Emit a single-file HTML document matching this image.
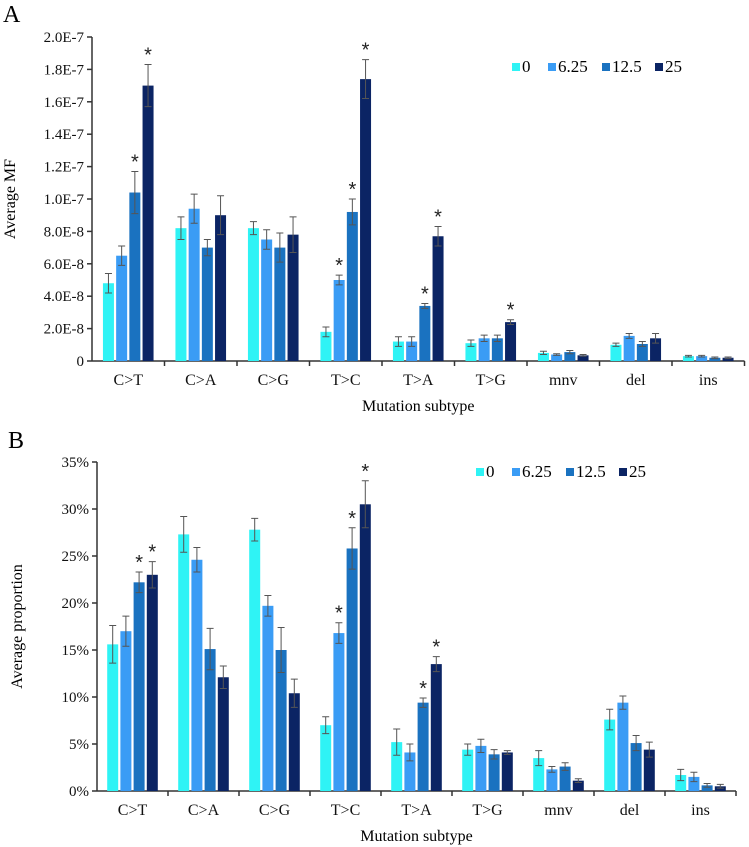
<!DOCTYPE html>
<html><head><meta charset="utf-8"><style>
body{margin:0;background:#fff;}
svg{display:block;font-family:"Liberation Serif",serif;}
</style></head><body>
<svg id="c" width="749" height="847" viewBox="0 0 749 847" xmlns="http://www.w3.org/2000/svg"></svg>
<script>
const categories=["C>T","C>A","C>G","T>C","T>A","T>G","mnv","del","ins"];
const seriesNames=["0","6.25","12.5","25"];
const colors=["#2ff3f5","#3a9cf5","#1a72c0","#0b2464"];
// Panel A values (units of 1E-8)
const aS0=[4.8,8.2,8.2,1.8,1.2,1.1,0.5,1.0,0.3];
const aS1=[6.5,9.4,7.5,5.0,1.2,1.4,0.4,1.55,0.3];
const aS2=[10.4,7.0,7.0,9.2,3.4,1.4,0.55,1.05,0.2];
const aS3=[17.0,9.0,7.8,17.4,7.7,2.4,0.35,1.4,0.2];
const aE0=[0.6,0.7,0.4,0.3,0.3,0.2,0.1,0.1,0.05];
const aE1=[0.6,0.9,0.6,0.3,0.3,0.2,0.05,0.15,0.05];
const aE2=[1.3,0.5,0.9,0.8,0.15,0.2,0.1,0.15,0.05];
const aE3=[1.3,1.2,1.1,1.2,0.6,0.15,0.05,0.3,0.05];
const aStars=[[0,2],[0,3],[3,1],[3,2],[3,3],[4,2],[4,3],[5,3]];
const aTicks=["0","2.0E-8","4.0E-8","6.0E-8","8.0E-8","1.0E-7","1.2E-7","1.4E-7","1.6E-7","1.8E-7","2.0E-7"];
// Panel B values (%)
const bS0=[15.6,27.3,27.8,7.0,5.2,4.4,3.5,7.6,1.7];
const bS1=[17.0,24.6,19.7,16.8,4.1,4.8,2.3,9.4,1.5];
const bS2=[22.2,15.1,15.0,25.8,9.4,3.9,2.6,5.1,0.6];
const bS3=[23.0,12.1,10.4,30.5,13.5,4.1,1.1,4.4,0.5];
const bE0=[2.0,1.9,1.2,0.9,1.4,0.6,0.8,1.1,0.6];
const bE1=[1.6,1.3,1.1,1.1,0.9,0.7,0.3,0.7,0.5];
const bE2=[1.1,2.2,2.4,2.2,0.5,0.5,0.4,0.8,0.2];
const bE3=[1.4,1.2,1.5,2.5,0.8,0.2,0.2,0.8,0.2];
const bStars=[[0,2],[0,3],[3,1],[3,2],[3,3],[4,2],[4,3]];
const bTicks=["0%","5%","10%","15%","20%","25%","30%","35%"];

const svg=document.getElementById('c');
const NS="http://www.w3.org/2000/svg";
function mk(tag,attrs,parent){const e=document.createElementNS(NS,tag);for(const k in attrs)e.setAttribute(k,attrs[k]);(parent||svg).appendChild(e);return e;}
function txt(s,attrs,parent){const e=mk('text',attrs,parent);e.textContent=s;return e;}

function panel(cfg){
  const g=mk('g',{});
  
  
  const x0=cfg.x0,cw=cfg.cw,yb=cfg.yb,yt=cfg.yt,max=cfg.max;
  const y=v=>yb-(v/max)*(yb-yt);
  const xEnd=x0+cw*categories.length;
  const l=txt(cfg.letter,{x:cfg.lx,y:cfg.ly,'font-size':24},g);
  
  // y axis
  const ya=mk('line',{x1:x0,y1:yt,x2:x0,y2:yb,stroke:'#333','stroke-width':1.5},g);
  
  cfg.ticks.forEach((t,i)=>{
    const v=i*max/(cfg.ticks.length-1);const yy=y(v);
    mk('line',{x1:x0-5,y1:yy,x2:x0,y2:yy,stroke:'#333','stroke-width':1.5},g);
    const tl=txt(t,{x:x0-8,y:yy+5,'font-size':15,'text-anchor':'end',fill:'#111'},g);
    
  });
  const xa=mk('line',{x1:x0,y1:yb,x2:xEnd,y2:yb,stroke:'#333','stroke-width':1.5},g);
  
  categories.forEach((c,i)=>{
    const xt=x0+cw*(i+1);
    mk('line',{x1:xt,y1:yb,x2:xt,y2:yb+5,stroke:'#333','stroke-width':1.5},g);
    const cl=txt(c,{x:x0+cw*(i+0.5),y:yb+24,'font-size':16,'text-anchor':'middle',fill:'#111'},g);
    
  });
  const yt2=txt(cfg.ytitle,{x:0,y:0,'font-size':16,'text-anchor':'middle',transform:`translate(${cfg.ytx},${(yt+yb)/2}) rotate(-90)`},g);
  
  const xt2=txt('Mutation subtype',{x:(x0+xEnd)/2,y:yb+50,'font-size':16,'text-anchor':'middle'},g);
  
  const bw=11,gap=2.2,gw=4*bw+3*gap;
  cfg.vals.forEach((arr,s)=>{
    arr.forEach((v,i)=>{
      const bx=x0+cw*(i+0.5)-gw/2+s*(bw+gap);
      const r=mk('rect',{x:bx,y:y(v),width:bw,height:yb-y(v),fill:colors[s]},g);
      
      
      const e=cfg.errs[s][i];const cx=bx+bw/2;
      const eb=mk('path',{d:`M${cx},${y(v-e)}V${y(v+e)}M${cx-3.5},${y(v+e)}H${cx+3.5}M${cx-3.5},${y(v-e)}H${cx+3.5}`,stroke:'#555','stroke-width':1,fill:'none'},g);
      
    });
  });
  cfg.stars.forEach(([i,s])=>{
    const v=cfg.vals[s][i]+cfg.errs[s][i];
    const bx=x0+cw*(i+0.5)-gw/2+s*(bw+gap)+bw/2;
    const st=txt('*',{x:bx,y:y(v)-3,'font-size':20,'text-anchor':'middle','font-family':'Liberation Sans, sans-serif',fill:'#222'},g);
    
  });
  const lx=cfg.legx;
  const lg=mk('g',{},g);
  
  const offs=[0,36,90,143];
  seriesNames.forEach((n,s)=>{
    const sq=mk('rect',{x:lx+offs[s],y:cfg.legy-8,width:8,height:8,fill:colors[s]},lg);
    
    const t=txt(n,{x:lx+offs[s]+10,y:cfg.legy+1,'font-size':17},lg);
    
  });
}
panel({name:'panel-a',letter:'A',lx:3,ly:22,x0:92,cw:72.5,yb:361,yt:37,max:20,ticks:aTicks,
  vals:[aS0,aS1,aS2,aS3],errs:[aE0,aE1,aE2,aE3],stars:aStars,ytitle:'Average MF',ytx:15,legx:512,legy:71});
panel({name:'panel-b',letter:'B',lx:8,ly:448,x0:97,cw:71,yb:791,yt:462,max:35,ticks:bTicks,
  vals:[bS0,bS1,bS2,bS3],errs:[bE0,bE1,bE2,bE3],stars:bStars,ytitle:'Average proportion',ytx:22,legx:476,legy:476});
</script>
</body></html>
